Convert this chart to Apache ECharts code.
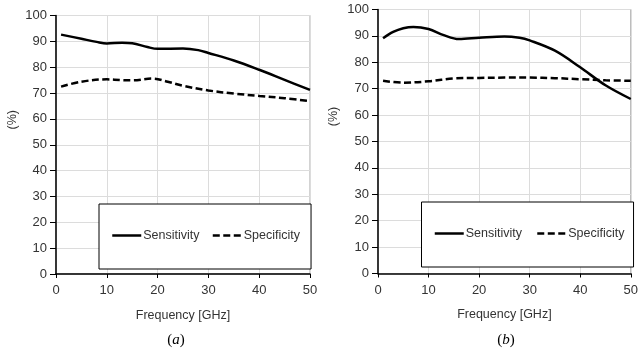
<!DOCTYPE html>
<html><head><meta charset="utf-8">
<script src="https://cdn.jsdelivr.net/npm/echarts@6/dist/echarts.min.js"></script>
<style>html,body{margin:0;padding:0;background:#fff}#c{width:641px;height:354px}</style>
</head><body><div id="c"></div>
<script>
// ---- data ----
const xAxisMin = 0, xAxisMax = 50, xStep = 10;
const yAxisMin = 0, yAxisMax = 100, yStep = 10;
const xAxisTitle = 'Frequency [GHz]';
const yAxisTitle = '(%)';
const panelLabels = ['a', 'b'];
const seriesNames = ['Sensitivity', 'Specificity'];

// panel (a)
const freqSensA = [1, 5, 8, 10, 13, 15, 18, 20, 25, 28, 30, 35, 40, 45, 50];
const sensA     = [92.6, 91.0, 89.8, 89.2, 89.5, 89.3, 87.8, 87.1, 87.2, 86.6, 85.5, 82.6, 79.0, 75.1, 71.2];
const freqSpecA = [1, 5, 10, 13, 15, 19, 22, 25, 30, 35, 40, 45, 50];
const specA     = [72.5, 74.4, 75.3, 75.0, 74.9, 75.6, 74.4, 72.8, 71.0, 69.8, 68.9, 68.0, 66.9];

// panel (b)
const freqSensB = [1, 3, 5, 7, 10, 13, 16, 20, 25, 28, 30, 35, 40, 45, 50];
const sensB     = [89.1, 91.5, 92.9, 93.4, 92.6, 90.3, 88.8, 89.3, 89.8, 89.3, 88.3, 84.4, 78.1, 71.3, 66.1];
const freqSpecB = [1, 5, 10, 15, 20, 25, 30, 35, 40, 45, 50];
const specB     = [73.0, 72.3, 72.8, 73.9, 74.1, 74.2, 74.2, 74.0, 73.6, 73.2, 73.0];

// ---- chart ----
const zip = (xs, ys) => xs.map((x, i) => [x, ys[i]]);
const FONT = 'Liberation Sans, Arial, sans-serif';
const TXT = '#333';
const DASH = [7, 3.5];

function xAx(gi) {
  return {
    type: 'value', gridIndex: gi, min: xAxisMin, max: xAxisMax, interval: xStep,
    name: xAxisTitle, nameLocation: 'middle', nameGap: 35,
    nameTextStyle: { fontFamily: FONT, fontSize: 12.5, color: TXT },
    axisLine: { show: true, onZero: false, lineStyle: { color: '#000', width: 1.5 } },
    axisTick: { show: true, length: 4, lineStyle: { color: '#000' } },
    axisLabel: { margin: 10, fontFamily: FONT, fontSize: 13, color: TXT },
    splitLine: { show: true, lineStyle: { color: '#dcdcdc', width: 1 } }
  };
}
function yAx(gi, gap) {
  return {
    type: 'value', gridIndex: gi, min: yAxisMin, max: yAxisMax, interval: yStep,
    name: yAxisTitle, nameLocation: 'middle', nameGap: gap, nameRotate: 90,
    nameTextStyle: { fontFamily: FONT, fontSize: 12.5, color: TXT, padding: [0, 0, 0, 50] },
    axisLine: { show: true, onZero: false, lineStyle: { color: '#000', width: 1.5 } },
    axisTick: { show: true, length: 6, lineStyle: { color: '#000' } },
    axisLabel: { margin: 9, fontFamily: FONT, fontSize: 13, color: TXT },
    splitLine: { show: true, lineStyle: { color: '#dcdcdc', width: 1 } }
  };
}
function ser(name, gi, data, dashed) {
  return {
    name, type: 'line', xAxisIndex: gi, yAxisIndex: gi, data,
    smooth: 0.35, symbol: 'none', showSymbol: false, silent: true,
    lineStyle: { color: '#000', width: 2.5, type: dashed ? DASH : 'solid' },
    itemStyle: { color: '#000' }, z: 3
  };
}
function leg(left, top, padding, gap) {
  return {
    left, top, orient: 'horizontal',
    data: seriesNames,
    itemWidth: 29, itemHeight: 14, itemGap: gap,
    padding,
    borderColor: '#000', borderWidth: 1, backgroundColor: '#fff',
    itemStyle: { color: 'transparent', borderWidth: 0, opacity: 0 },
    lineStyle: { width: 2.5, color: '#000' },
    textStyle: { fontFamily: FONT, fontSize: 12.5, color: TXT, padding: [0, 0, 0, -3] },
    selectedMode: false, z: 10
  };
}
function panelText(x, letter) {
  return {
    type: 'text', x, y: 340, z: 20,
    style: {
      text: '{p|(}{i|' + letter + '}{p|)}',
      textAlign: 'center', textVerticalAlign: 'middle',
      rich: {
        p: { fontFamily: 'Liberation Serif, Times New Roman, serif', fontSize: 15, fill: '#000' },
        i: { fontFamily: 'Liberation Serif, Times New Roman, serif', fontSize: 15, fontStyle: 'italic', fill: '#000' }
      }
    }
  };
}

const chart = echarts.init(document.getElementById('c'), null, { renderer: 'canvas' });
chart.setOption({
  animation: false,
  backgroundColor: '#fff',
  grid: [
    { left: 56, top: 15.5, width: 254, height: 258.5, show: true, borderColor: '#a6a6a6', borderWidth: 1, backgroundColor: 'transparent' },
    { left: 378, top: 9.5, width: 258, height: 264, show: true, borderColor: '#a6a6a6', borderWidth: 1, backgroundColor: 'transparent' }
  ],
  xAxis: [xAx(0), xAx(1)],
  yAxis: [yAx(0, 37), yAx(1, 38)],
  legend: [
    leg(99, 204, [25, 11, 27, 12], 12),
    leg(421.5, 202, [25, 9, 27, 12], 14)
  ],
  series: [
    ser(seriesNames[0], 0, zip(freqSensA, sensA), false),
    ser(seriesNames[1], 0, zip(freqSpecA, specA), true),
    ser(seriesNames[0], 1, zip(freqSensB, sensB), false),
    ser(seriesNames[1], 1, zip(freqSpecB, specB), true)
  ],
  graphic: [panelText(176, panelLabels[0]), panelText(506, panelLabels[1])]
});
</script>
</body></html>
